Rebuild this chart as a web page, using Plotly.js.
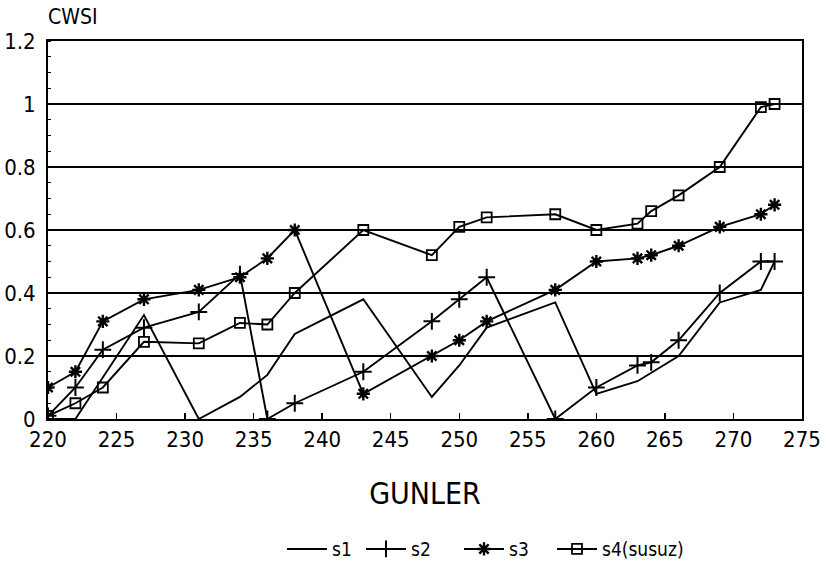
<!DOCTYPE html>
<html>
<head>
<meta charset="utf-8">
<script src="https://cdn.plot.ly/plotly-3.0.1.min.js"></script>
<style>html,body{margin:0;padding:0;background:#fff;}#chart{width:826px;height:569px;}</style>
</head>
<body>
<div id="chart"></div>
<script>
const s1_x = [220, 222, 227, 231, 234, 236, 238, 243, 248, 250, 252, 257, 260, 263, 266, 269, 272, 273];
const s1_y = [0, 0, 0.33, 0, 0.07, 0.14, 0.27, 0.38, 0.07, 0.17, 0.29, 0.37, 0.08, 0.12, 0.20, 0.37, 0.41, 0.50];

const s2_x = [220, 222, 224, 227, 231, 234, 236, 238, 243, 248, 250, 252, 257, 260, 263, 264, 266, 269, 272, 273];
const s2_y = [0.01, 0.10, 0.22, 0.29, 0.34, 0.46, 0, 0.05, 0.15, 0.31, 0.38, 0.45, 0, 0.10, 0.17, 0.18, 0.25, 0.40, 0.50, 0.50];

const s3_x = [220, 222, 224, 227, 231, 234, 236, 238, 243, 248, 250, 252, 257, 260, 263, 264, 266, 269, 272, 273];
const s3_y = [0.10, 0.15, 0.31, 0.38, 0.41, 0.45, 0.51, 0.60, 0.08, 0.20, 0.25, 0.31, 0.41, 0.50, 0.51, 0.52, 0.55, 0.61, 0.65, 0.68];

const s4_x = [220, 222, 224, 227, 231, 234, 236, 238, 243, 248, 250, 252, 257, 260, 263, 264, 266, 269, 272, 273];
const s4_y = [0.01, 0.05, 0.10, 0.245, 0.24, 0.305, 0.30, 0.40, 0.60, 0.52, 0.61, 0.64, 0.65, 0.60, 0.62, 0.66, 0.71, 0.80, 0.99, 1.0];

const names = ['s1', 's2', 's3', 's4(susuz)'];
const xTicks = [220, 225, 230, 235, 240, 245, 250, 255, 260, 265, 270, 275];
const yTicks = [0, 0.2, 0.4, 0.6, 0.8, 1, 1.2];

const FONT = '"DejaVu Sans Condensed", "Liberation Sans Narrow", "DejaVu Sans", sans-serif';
const lineStyle = {color: '#000', width: 1.9};

const traces = [
  {x: s1_x, y: s1_y, name: names[0], legend: 'legend', mode: 'lines', line: lineStyle},
  {x: s2_x, y: s2_y, name: names[1], legend: 'legend2', mode: 'lines+markers', line: lineStyle,
   marker: {symbol: 'cross-thin-open', size: 12, color: '#000', line: {color: '#000', width: 2}}},
  {x: s3_x, y: s3_y, name: names[2], legend: 'legend3', mode: 'lines+markers', line: lineStyle,
   marker: {symbol: 'asterisk-open', size: 11, color: '#000', line: {color: '#000', width: 2.4}}},
  {x: s4_x, y: s4_y, name: names[3], legend: 'legend4', mode: 'lines+markers', line: lineStyle,
   marker: {symbol: 'square-open', size: 10, color: '#000', line: {color: '#000', width: 1.8}}}
];

function legendAt(px) {
  return {orientation: 'h', xref: 'container', yref: 'container',
          x: px / 826, xanchor: 'left', y: 0.035, yanchor: 'middle',
          font: {family: FONT, size: 19, color: '#000'}, itemwidth: 40,
          bgcolor: 'rgba(0,0,0,0)'};
}

const layout = {
  width: 826, height: 569,
  paper_bgcolor: '#fff', plot_bgcolor: '#fff',
  margin: {l: 48, r: 24, t: 41, b: 150, autoexpand: false},
  font: {family: FONT, color: '#000', size: 18},
  showlegend: true,
  legend: legendAt(282),
  legend2: legendAt(361),
  legend3: legendAt(459),
  legend4: legendAt(552),
  xaxis: {
    range: [220, 275], tickvals: xTicks, ticktext: xTicks.map(String),
    automargin: false,
    showgrid: false, zeroline: false, showline: true, linecolor: '#000', linewidth: 2,
    mirror: true, ticks: 'inside', ticklen: 6, tickwidth: 1.5, tickcolor: '#000',
    tickfont: {family: FONT, size: 22, color: '#000'},
    title: {text: 'GUNLER', font: {family: FONT, size: 30, color: '#000'}, standoff: 32}
  },
  yaxis: {
    range: [0, 1.2], tickvals: yTicks, ticktext: yTicks.map(String),
    automargin: false,
    showgrid: true, gridcolor: '#000', gridwidth: 1.3,
    zeroline: false, showline: true, linecolor: '#000', linewidth: 2,
    mirror: true, ticks: '', ticklabelstandoff: 6,
    tickfont: {family: FONT, size: 22, color: '#000'},
    minor: {dtick: 0.05, ticks: 'inside', ticklen: 3, tickcolor: '#000', showgrid: false}
  },
  annotations: [
    {text: 'CWSI', xref: 'paper', yref: 'paper', x: 0, y: 1, xanchor: 'left', yanchor: 'bottom',
     yshift: 10, xshift: -2, showarrow: false, font: {family: FONT, size: 21, color: '#000'}}
  ]
};

Plotly.newPlot('chart', traces, layout, {displayModeBar: false, staticPlot: true});
</script>
</body>
</html>
